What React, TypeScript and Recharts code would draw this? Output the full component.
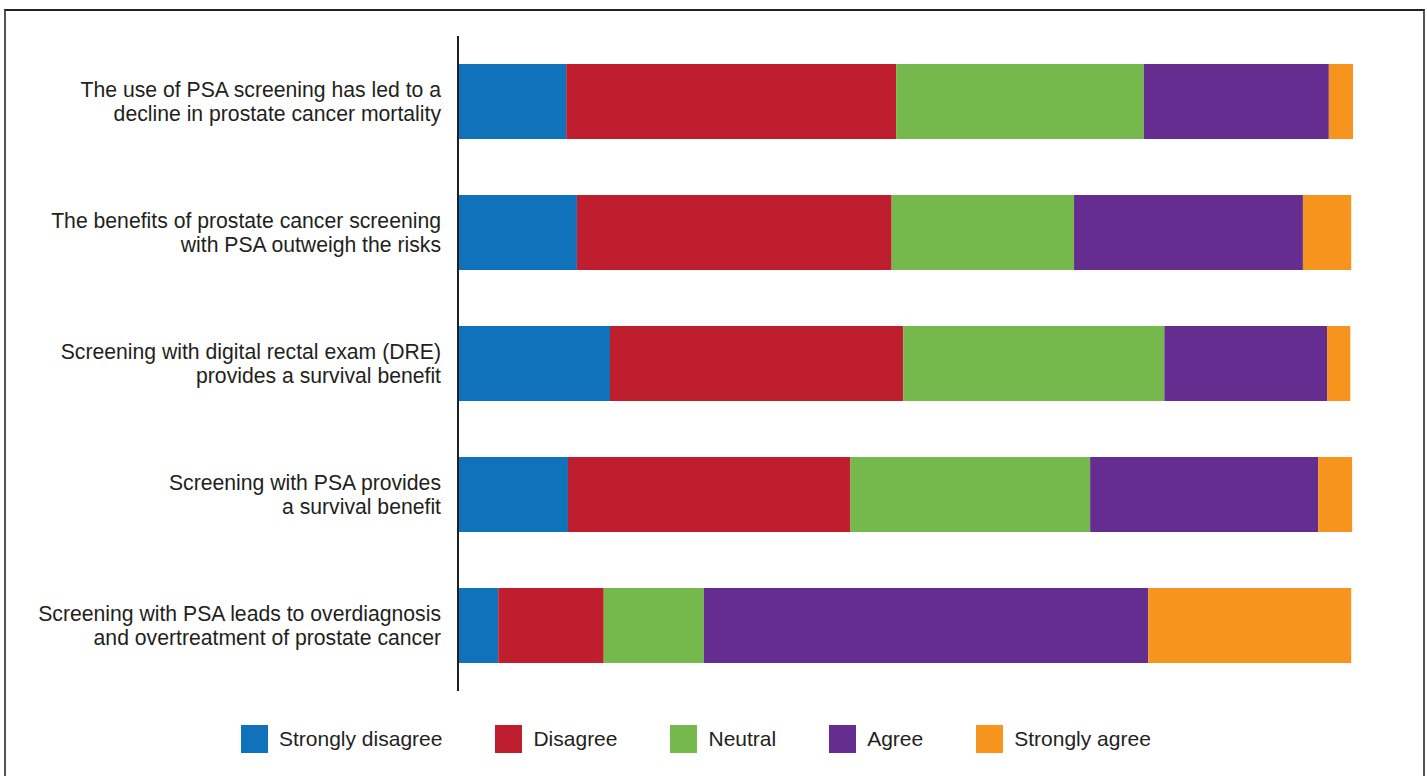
import { Bar, BarChart, Legend, XAxis, YAxis } from "recharts";

const statements = [
  ["The use of PSA screening has led to a", "decline in prostate cancer mortality"],
  ["The benefits of prostate cancer screening", "with PSA outweigh the risks"],
  ["Screening with digital rectal exam (DRE)", "provides a survival benefit"],
  ["Screening with PSA provides", "a survival benefit"],
  ["Screening with PSA leads to overdiagnosis", "and overtreatment of prostate cancer"],
];

// % of respondents per answer, one value per statement (top to bottom)
const stronglyDisagree = [12.1, 13.3, 17.0, 12.3, 4.5];
const disagree = [36.9, 35.2, 32.8, 31.6, 11.8];
const neutral = [27.7, 20.4, 29.2, 26.8, 11.2];
const agree = [20.7, 25.6, 18.2, 25.5, 49.7];
const stronglyAgree = [2.7, 5.4, 2.6, 3.8, 22.7];

const series = [
  { key: "sd", name: "Strongly disagree", color: "#1072BA", values: stronglyDisagree },
  { key: "d", name: "Disagree", color: "#BE1E2D", values: disagree },
  { key: "n", name: "Neutral", color: "#75B84B", values: neutral },
  { key: "a", name: "Agree", color: "#662D91", values: agree },
  { key: "sa", name: "Strongly agree", color: "#F7941D", values: stronglyAgree },
];

const rows = statements.map((lines, i) => {
  const row: Record<string, string | number> = { id: String(i) };
  series.forEach((s) => (row[s.key] = s.values[i]));
  return row;
});

const font = "'Liberation Sans', Arial, Helvetica, sans-serif";
const ink = "#231F20";

function StatementTick({ x, y, payload }: any) {
  const lines = statements[Number(payload.value)] ?? [];
  return (
    <g>
      {lines.map((l, i) => (
        <text
          key={i}
          x={x}
          y={y + (i === 0 ? -12 : 12)}
          textAnchor="end"
          dominantBaseline="central"
          fill={ink}
          fontSize={21.2}
          fontFamily={font}
        >
          {l}
        </text>
      ))}
    </g>
  );
}

function AnswerLegend() {
  return (
    <div style={{ display: "flex", paddingTop: 34, paddingLeft: 241, fontFamily: font, fontSize: 21, color: ink }}>
      {series.map((s) => (
        <div key={s.key} style={{ display: "flex", alignItems: "center", marginRight: 53 }}>
          <span style={{ width: 27, height: 28, background: s.color, marginRight: 11 }} />
          <span>{s.name}</span>
        </div>
      ))}
    </div>
  );
}

export default function App() {
  return (
    <div style={{ position: "absolute", left: 0, top: 0, width: 1427, height: 776, overflow: "hidden", background: "#fff" }}>
      <div
        style={{
          position: "absolute", left: 4, top: 9, width: 1417, height: 767,
          border: "2px solid #555", borderBottom: "none", borderTopColor: "#222",
        }}
      />
      <BarChart
        width={1427}
        height={776}
        data={rows}
        layout="vertical"
        margin={{ top: 36, right: 74, bottom: 23, left: 0 }}
        barSize={75}
        style={{ position: "absolute", left: 0, top: 0 }}
      >
        <XAxis type="number" domain={[0, 100]} hide />
        <YAxis
          type="category"
          dataKey="id"
          width={458}
          tick={<StatementTick />}
          tickLine={false}
          tickSize={0}
          tickMargin={17}
          axisLine={{ stroke: "#231F20", strokeWidth: 2 }}
        />
        <Legend verticalAlign="bottom" align="left" content={<AnswerLegend />} />
        {series.map((s) => (
          <Bar key={s.key} dataKey={s.key} name={s.name} stackId="x" fill={s.color} isAnimationActive={false} />
        ))}
      </BarChart>
    </div>
  );
}
